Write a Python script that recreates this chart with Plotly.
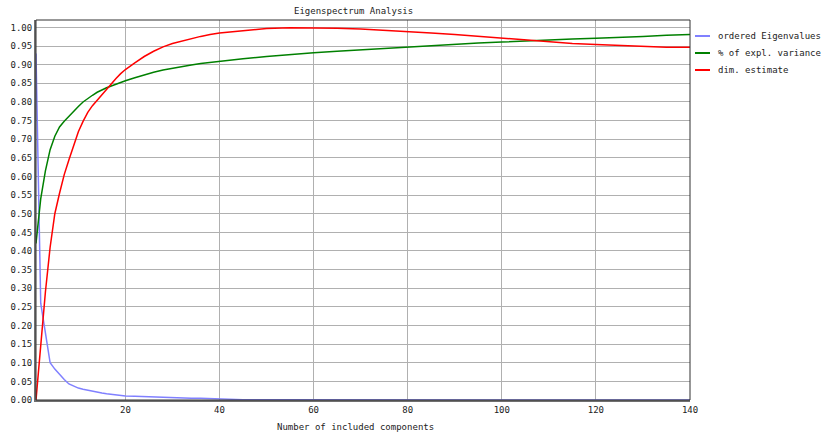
import plotly.graph_objects as go

# ---- data ----
eig_x = [1, 2, 3, 4, 5, 6, 7, 8, 9, 10, 11, 12, 13, 14, 15, 16, 17, 18, 19, 20,
         22, 24, 26, 28, 30, 32, 34, 36, 38, 40, 42, 45, 50, 60, 80, 100, 120, 140]
eig_y = [0.93, 0.26, 0.18, 0.10, 0.083, 0.068, 0.055, 0.043, 0.037, 0.032, 0.029,
         0.026, 0.023, 0.021, 0.019, 0.017, 0.015, 0.014, 0.012, 0.011,
         0.010, 0.009, 0.008, 0.007, 0.006, 0.006, 0.005, 0.005, 0.004, 0.004,
         0.003, 0.001, 0.001, 0.0005, 0.0003, 0.0002, 0.0001, 0.0]

var_x = [1, 2, 3, 4, 5, 6, 7, 8, 9, 10, 11, 12, 13, 14, 15, 16, 17, 18, 19, 20,
         22, 24, 26, 28, 30, 32, 34, 36, 38, 40, 45, 50, 55, 60, 65, 70, 75, 80,
         85, 90, 95, 100, 105, 110, 115, 120, 125, 130, 135, 140]
var_y = [0.42, 0.54, 0.615, 0.672, 0.708, 0.733, 0.748, 0.762, 0.776, 0.788,
         0.800, 0.810, 0.818, 0.826, 0.833, 0.838, 0.843, 0.848, 0.853, 0.857,
         0.865, 0.873, 0.880, 0.886, 0.891, 0.895, 0.899, 0.903, 0.906, 0.910,
         0.916, 0.922, 0.928, 0.932, 0.936, 0.940, 0.944, 0.948, 0.952, 0.955,
         0.958, 0.961, 0.964, 0.966, 0.969, 0.971, 0.973, 0.976, 0.979, 0.981]

dim_x = [1, 2, 3, 4, 5, 6, 7, 8, 9, 10, 11, 12, 13, 14, 15, 16, 17, 18, 19, 20,
         22, 24, 26, 28, 30, 32, 34, 36, 38, 40, 45, 50, 55, 60, 65, 70, 75, 80,
         85, 90, 95, 100, 105, 110, 115, 120, 125, 130, 135, 140]
dim_y = [0.0, 0.155, 0.29, 0.41, 0.50, 0.555, 0.605, 0.645, 0.685, 0.72,
         0.748, 0.772, 0.79, 0.805, 0.82, 0.836, 0.85, 0.863, 0.876, 0.887,
         0.905, 0.922, 0.936, 0.948, 0.957, 0.964, 0.970, 0.976, 0.981, 0.985,
         0.991, 0.997, 0.999, 0.999, 0.998, 0.996, 0.993, 0.990, 0.985, 0.981,
         0.976, 0.970, 0.966, 0.961, 0.957, 0.954, 0.951, 0.948, 0.947, 0.947]

series_names = ["ordered Eigenvalues", "% of expl. variance", "dim. estimate"]
series_colors = ["#8080ff", "#008000", "#ff0000"]
x_ticks = [20, 40, 60, 80, 100, 120, 140]
y_ticks = [round(i * 0.05, 2) for i in range(21)]

FONT = "DejaVu Sans Mono"
W, H = 823, 432
L, R, T, B = 36, 690, 20, 400

fig = go.Figure()
for xs, ys, name, col in zip([eig_x, var_x, dim_x], [eig_y, var_y, dim_y],
                             series_names, series_colors):
    fig.add_trace(go.Scatter(x=xs, y=ys, mode="lines", name=name,
                             line=dict(color=col, width=1.5),
                             showlegend=False))

def px2paper_x(px):
    return (px - L) / (R - L)

def px2paper_y(py):
    return (B - py) / (B - T)

shapes = []
annotations = []
leg_y = [36, 53, 70]
for name, col, py in zip(series_names, series_colors, leg_y):
    shapes.append(dict(type="line", xref="paper", yref="paper",
                       x0=px2paper_x(695), x1=px2paper_x(710),
                       y0=px2paper_y(py), y1=px2paper_y(py),
                       line=dict(color=col, width=2)))
    annotations.append(dict(text=name, xref="paper", yref="paper",
                            x=px2paper_x(716), y=px2paper_y(py),
                            xanchor="left", yanchor="middle", showarrow=False,
                            font=dict(family=FONT, size=9, color="#222")))

# frame
shapes.append(dict(type="rect", xref="paper", yref="paper", x0=0, x1=1, y0=0, y1=1,
                   line=dict(color="#303030", width=1), layer="above"))

annotations.append(dict(text="Eigenspectrum Analysis", xref="paper", yref="paper",
                        x=px2paper_x(353), y=px2paper_y(11), xanchor="center",
                        yanchor="middle", showarrow=False,
                        font=dict(family=FONT, size=9, color="#222")))
annotations.append(dict(text="Number of included components", xref="paper",
                        yref="paper", x=px2paper_x(355), y=px2paper_y(427),
                        xanchor="center", yanchor="middle", showarrow=False,
                        font=dict(family=FONT, size=9, color="#222")))

fig.update_layout(
    width=W, height=H,
    margin=dict(l=L, r=W - R, t=T, b=H - B, pad=0),
    paper_bgcolor="white", plot_bgcolor="white",
    font=dict(family=FONT, size=9, color="#222"),
    shapes=shapes, annotations=annotations,
    showlegend=False,
    xaxis=dict(range=[1, 140], tickvals=x_ticks, ticktext=[str(v) for v in x_ticks],
               showgrid=True, gridcolor="#b0b0b0", gridwidth=1,
               showline=True, linecolor="#707070", linewidth=2,
               zeroline=False, ticks="", fixedrange=True),
    yaxis=dict(range=[0, 1.02], tickvals=y_ticks,
               ticktext=[f"{v:.2f}" for v in y_ticks],
               showgrid=True, gridcolor="#b0b0b0", gridwidth=1,
               showline=True, linecolor="#707070", linewidth=2,
               zeroline=False, ticks="", fixedrange=True),
)

fig.write_html("out.html",
               config={"displayModeBar": False},
               post_script="document.body.style.margin='0';"
                           "document.body.style.overflow='hidden';")
